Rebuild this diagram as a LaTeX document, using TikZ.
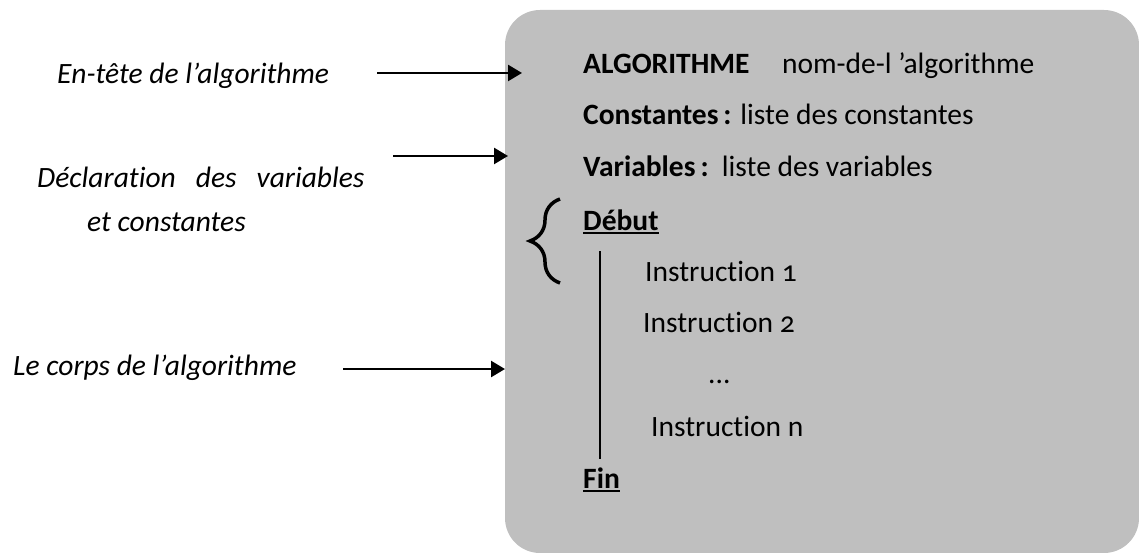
\documentclass[tikz,border=0pt]{standalone}
\usepackage{fontspec}
\setmainfont{Carlito}[Numbers=OldStyle, Ligatures=NoCommon]
\usepackage{tikz}
\usepackage{xcolor}
\usetikzlibrary{arrows.meta,decorations.pathreplacing}

\definecolor{fondgris}{RGB}{191,191,191}

\begin{document}
\begin{tikzpicture}[x=1pt,y=-1pt]
        \useasboundingbox (0,0) rectangle (1139,553);
        \fill[fondgris, rounded corners=35pt] (505,10) rectangle (1139,553);

        \begin{scope}[every node/.style = {inner sep=0pt, anchor=base west,
                        font=\fontsize{29.5}{35}\selectfont}]
            \node (entete) at (57, 84)   {\itshape En-tête de l’algorithme};
            \node (decl)   at (37, 188)  {\itshape Déclaration\ \ \ des\ \ \ variables};
            \node (declb)  at (87, 232)  {\itshape et constantes};
            \node (corps)  at (13, 375)  {\itshape Le corps de l’algorithme};

            \node (algo)   at (583, 74)  {\textbf{ALGORITHME}\hspace{1.1em}nom-de-l ’algorithme};
            \node (cst)    at (583, 125) {\textbf{Constantes\,:} liste des constantes};
            \node (var)    at (583, 177) {\textbf{Variables\,:}\ \ liste des variables};
            \node (debut)  at (583, 230) {\textbf{Début}};

            \node (instA)  at (645, 281) {Instruction 1};
            \node (instB)  at (643, 332) {Instruction 2};
            \node (points) at (708, 383) {...};
            \node (instN)  at (651, 436) {Instruction n};

            \node (fin)    at (583, 488) {\textbf{Fin}};
        \end{scope}

        % soulignement de Début et Fin
        \draw[line width=2pt] ([yshift=-3pt]debut.base west) -- ([yshift=-3pt]debut.base east);
        \draw[line width=2pt] ([yshift=-3pt]fin.base west) -- ([yshift=-3pt]fin.base east);

        % bloc d'instructions et accolade
        \coordinate (blocH) at (600, 251);
        \coordinate (blocB) at (600, 459);
        \draw[line width=2pt] (blocH) -- (blocB);

        \coordinate (accB) at (560, 283);
        \coordinate (accH) at (560, 199);
        \draw[line width=3.5pt, decorate, decoration={brace, amplitude=30pt}] (accB) -- (accH);

        % fleches vers le cadre
        \coordinate (f1a) at (377, 73);  \coordinate (f1b) at (522, 73);
        \coordinate (f2a) at (393, 156); \coordinate (f2b) at (508, 156);
        \coordinate (f3a) at (343, 369); \coordinate (f3b) at (505, 369);

        \begin{scope}[>={Triangle[length=14pt,width=16pt]}, line width=2.5pt]
            \draw [->] (f1a) -- (f1b);
            \draw [->] (f2a) -- (f2b);
            \draw [->] (f3a) -- (f3b);
        \end{scope}
    \end{tikzpicture}
\end{document}
